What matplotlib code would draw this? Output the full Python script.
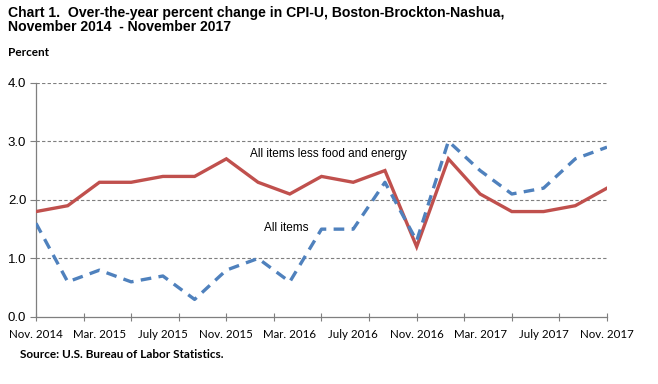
import numpy as np
import matplotlib.pyplot as plt

plt.rcParams['font.family'] = ['Liberation Sans', 'DejaVu Sans']

months = ['Nov. 2014', 'Jan. 2015', 'Mar. 2015', 'May 2015', 'July 2015', 'Sep. 2015',
          'Nov. 2015', 'Jan. 2016', 'Mar. 2016', 'May 2016', 'July 2016', 'Sep. 2016',
          'Nov. 2016', 'Jan. 2017', 'Mar. 2017', 'May 2017', 'July 2017', 'Sep. 2017',
          'Nov. 2017']
all_items = [1.6, 0.6, 0.8, 0.6, 0.7, 0.3, 0.8, 1.0, 0.6, 1.5, 1.5, 2.3, 1.3, 3.0, 2.5, 2.1, 2.2, 2.7, 2.9]
core = [1.8, 1.9, 2.3, 2.3, 2.4, 2.4, 2.7, 2.3, 2.1, 2.4, 2.3, 2.5, 1.2, 2.7, 2.1, 1.8, 1.8, 1.9, 2.2]

x = np.arange(len(months))

fig = plt.figure(figsize=(6.58, 3.84), dpi=100)
ax = fig.add_axes([0.0547, 0.1745, 0.8678, 0.6101])

ax.plot(x, core, color='#C0504D', lw=2.4, solid_joinstyle='miter', zorder=3)
ax.plot(x, all_items, color='#4F81BD', lw=2.4, dashes=(3.2, 2.2), zorder=4)

ax.set_xlim(0, len(months) - 1)
ax.set_ylim(0, 4)
ax.set_yticks([0, 1, 2, 3, 4])
ax.set_yticklabels(['0.0', '1.0', '2.0', '3.0', '4.0'], fontsize=9.5)
for v in [1, 2, 3, 4]:
    ax.axhline(v, color='#7f7f7f', lw=0.8, ls=(0, (3, 2)), zorder=1)

# labels every 2 categories, tick marks every 1.5 categories
ax.xaxis.remove_overlapping_locs = False
ax.set_xticks(x[::2])
ax.set_xticklabels(months[::2], fontsize=8.3, family='Lato')
ax.set_xticks(np.arange(0, len(months), 1.5), minor=True)
ax.tick_params(axis='x', which='major', length=0, pad=8.5)
ax.tick_params(axis='x', which='minor', direction='inout', length=6, color='#7f7f7f', width=0.8)
ax.tick_params(axis='y', direction='out', length=4, color='#7f7f7f', width=0.8, pad=3)

for s in ['top', 'right']:
    ax.spines[s].set_visible(False)
for s in ['left', 'bottom']:
    ax.spines[s].set_color('#7f7f7f')
    ax.spines[s].set_linewidth(0.9)

ax.text(6.75, 2.68, 'All items less food and energy', fontsize=8.5, va='bottom', ha='left')
ax.text(7.2, 1.42, 'All items', fontsize=8.5, va='bottom', ha='left')

fig.text(0.012, 0.985, 'Chart 1.  Over-the-year percent change in CPI-U, Boston-Brockton-Nashua,\nNovember 2014  - November 2017',
         fontsize=10.1, fontweight='bold', va='top', ha='left', linespacing=1.05)
fig.text(0.012, 0.862, 'Percent', fontsize=8.5, fontweight='bold', family='Lato', va='center', ha='left')
fig.text(0.031, 0.078, 'Source: U.S. Bureau of Labor Statistics.', fontsize=8.5, fontweight='bold',
         family='Lato', va='center', ha='left')

fig.savefig('out.png', dpi=100)
